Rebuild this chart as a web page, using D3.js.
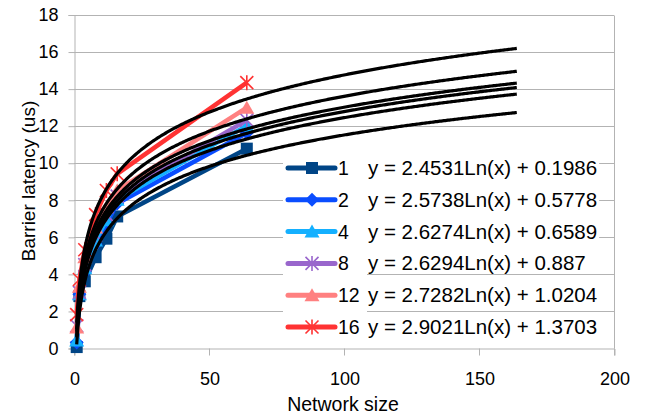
<!DOCTYPE html>
<html>
<head>
<meta charset="utf-8">
<script src="https://cdn.jsdelivr.net/npm/d3@7"></script>
<style>
  html, body { margin: 0; padding: 0; background: #fff; }
  svg { display: block; font-family: "Liberation Sans", Arial, sans-serif; }
</style>
</head>
<body>
<svg width="647" height="415"></svg>
<script>
// DATA

const networkSizes = [1, 2, 4, 8, 12, 16, 64];
const seriesNames = ['1', '2', '4', '8', '12', '16'];

const latency1 = [0.05, 2.8, 3.6, 4.9, 5.9, 7.1, 10.76];
const latency2 = [0.3, 2.9, 4.1, 5.6, 6.7, 7.8, 11.6];
const latency4 = [0.4, 2.9, 4.3, 5.8, 6.9, 8.0, 12.0];
const latency8 = [1.2, 3.0, 4.5, 6.1, 7.2, 8.2, 12.3];
const latency12 = [1.1, 3.3, 4.9, 6.5, 7.6, 8.5, 12.97];
const latency16 = [1.8, 3.7, 5.3, 7.2, 8.5, 9.4, 14.32];

// log trendlines, as printed on the chart
const trendSlopes = [2.4531, 2.5738, 2.6274, 2.6294, 2.7282, 2.9021];
const trendIntercepts = [0.1986, 0.5778, 0.6589, 0.887, 1.0204, 1.3703];
const trendLabels = [
    'y = 2.4531Ln(x) + 0.1986',
    'y = 2.5738Ln(x) + 0.5778',
    'y = 2.6274Ln(x) + 0.6589',
    'y = 2.6294Ln(x) + 0.887',
    'y = 2.7282Ln(x) + 1.0204',
    'y = 2.9021Ln(x) + 1.3703'
];
const trendStart = 1;
const trendEnd = 164;   // forecast 100 forward from 64

const xTicks = [0, 50, 100, 150, 200];
const yTicks = [0, 2, 4, 6, 8, 10, 12, 14, 16, 18];

// STYLE

const seriesColors = ['#004586', '#0a4dff', '#14b0ff', '#9966cc', '#ff8080', '#ff3333'];
const seriesMarkers = ['square', 'diamond', 'triangle', 'star', 'triangle', 'star'];
const GRID_COLOR = '#b3b3b3';
const FONT = '"Liberation Sans", Arial, sans-serif';

const allLatency = [latency1, latency2, latency4, latency8, latency12, latency16];
const series = seriesNames.map((name, i) => ({
    name: name,
    color: seriesColors[i],
    marker: seriesMarkers[i],
    points: networkSizes.map((n, j) => ({ x: n, y: allLatency[i][j] })),
    slope: trendSlopes[i],
    intercept: trendIntercepts[i],
    label: trendLabels[i]
}));

const svg = d3.select('svg');

const xScale = d3.scaleLinear().domain([0, 200]).range([74, 614]);
const yScale = d3.scaleLinear().domain([0, 18]).range([348, 14.5]);

// gridlines
svg.append('g')
    .selectAll('line')
    .data(yTicks.filter(d => d > 0))
    .enter()
    .append('line')
    .attr('x1', xScale(0))
    .attr('x2', xScale(200))
    .attr('y1', d => Math.round(yScale(d)) + 0.5)
    .attr('y2', d => Math.round(yScale(d)) + 0.5)
    .style('stroke', GRID_COLOR)
    .style('stroke-width', 1);

// right border of plot area
svg.append('line')
    .attr('x1', Math.round(xScale(200)) + 0.5)
    .attr('x2', Math.round(xScale(200)) + 0.5)
    .attr('y1', Math.round(yScale(18)) + 0.5)
    .attr('y2', Math.round(yScale(0)) + 0.5)
    .style('stroke', GRID_COLOR);

// axes
const yAxis = svg.append('g')
    .attr('transform', `translate(${Math.round(xScale(0)) + 0.5},0.5)`)
    .call(d3.axisLeft(yScale).tickValues(yTicks).tickSize(6).tickPadding(10).tickFormat(d3.format('d')));

const xAxis = svg.append('g')
    .attr('transform', `translate(0.5,${Math.round(yScale(0)) + 0.5})`)
    .call(d3.axisBottom(xScale).tickValues(xTicks).tickSize(7).tickPadding(17).tickFormat(d3.format('d')));

[xAxis, yAxis].forEach(ax => {
    ax.select('.domain').style('stroke', GRID_COLOR);
    ax.selectAll('.tick line').style('stroke', GRID_COLOR);
    ax.selectAll('.tick text')
        .style('font-family', FONT)
        .style('font-size', '18px')
        .style('fill', '#000');
});
xAxis.selectAll('.tick line').attr('transform', 'translate(-0.5,0)');

// axis titles
svg.append('text')
    .text('Network size')
    .attr('x', 343)
    .attr('y', 411)
    .style('font-family', FONT)
    .style('font-size', '19.5px')
    .style('text-anchor', 'middle');

svg.append('text')
    .text('Barrier latency (us)')
    .attr('transform', 'translate(35,181) rotate(-90)')
    .style('font-family', FONT)
    .style('font-size', '19px')
    .style('text-anchor', 'middle');

// marker shapes
function markerPath(type) {
    if (type === 'square') return 'M-6,-6H6V6H-6Z';
    if (type === 'diamond') return 'M0,-7L7,0L0,7L-7,0Z';
    if (type === 'triangle') return 'M0,-7L7.5,6H-7.5Z';
    return 'M0,-7.5V7.5M-6.5,-6.5L6.5,6.5M6.5,-6.5L-6.5,6.5';
}

function drawMarker(sel, s) {
    sel.append('path')
        .attr('d', markerPath(s.marker))
        .style('fill', s.marker === 'star' ? 'none' : s.color)
        .style('stroke', s.color)
        .style('stroke-width', s.marker === 'star' ? 1.6 : 0);
}

// series lines and markers
const line = d3.line()
    .x(d => xScale(d.x))
    .y(d => yScale(d.y));

const seriesGroups = svg.append('g')
    .selectAll('g')
    .data(series)
    .enter()
    .append('g');

seriesGroups.append('path')
    .attr('d', d => line(d.points))
    .style('fill', 'none')
    .style('stroke', d => d.color)
    .style('stroke-width', 4.5)
    .style('stroke-linejoin', 'round');

seriesGroups.each(function(s) {
    d3.select(this).selectAll('.marker')
        .data(s.points)
        .enter()
        .append('g')
        .classed('marker', true)
        .attr('transform', d => `translate(${xScale(d.x)},${yScale(d.y)})`)
        .each(function() { drawMarker(d3.select(this), s); });
});

// trendlines
const trendX = d3.range(trendStart, trendEnd + 0.001, 0.5);
svg.append('g')
    .selectAll('path')
    .data(series)
    .enter()
    .append('path')
    .attr('d', s => line(trendX.map(v => ({ x: v, y: s.slope * Math.log(v) + s.intercept }))))
    .style('fill', 'none')
    .style('stroke', '#000')
    .style('stroke-width', 3.2);

// legend
const LEGEND_TOP = 168;
const ROW_STEP = 31.8;

svg.append('rect')
    .attr('x', 283)
    .attr('y', 151)
    .attr('width', 84)
    .attr('height', 193)
    .style('fill', '#fff');

const legendRows = svg.append('g')
    .selectAll('g')
    .data(series)
    .enter()
    .append('g')
    .attr('transform', (d, i) => `translate(0,${LEGEND_TOP + i * ROW_STEP})`);

legendRows.append('line')
    .attr('x1', 288)
    .attr('x2', 335)
    .style('stroke', d => d.color)
    .style('stroke-width', 5)
    .style('stroke-linecap', 'round');

legendRows.append('g')
    .attr('transform', 'translate(312,0)')
    .each(function(s) { drawMarker(d3.select(this), s); });

legendRows.append('text')
    .text(d => d.name)
    .attr('x', 338)
    .attr('y', 7)
    .style('font-family', FONT)
    .style('font-size', '19.5px');

// trendline equations with white boxes
const eqRows = svg.append('g')
    .selectAll('g')
    .data(series)
    .enter()
    .append('g')
    .attr('transform', (d, i) => `translate(368,${LEGEND_TOP + i * ROW_STEP})`);

eqRows.append('rect')
    .attr('x', -2)
    .attr('y', -12)
    .attr('height', 22)
    .style('fill', '#fff');

eqRows.append('text')
    .text(d => d.label)
    .attr('y', 7)
    .style('font-family', FONT)
    .style('font-size', '20.5px');

eqRows.each(function() {
    const g = d3.select(this);
    const w = g.select('text').node().getComputedTextLength();
    g.select('rect').attr('width', w + 4);
});
</script>
</body>
</html>
